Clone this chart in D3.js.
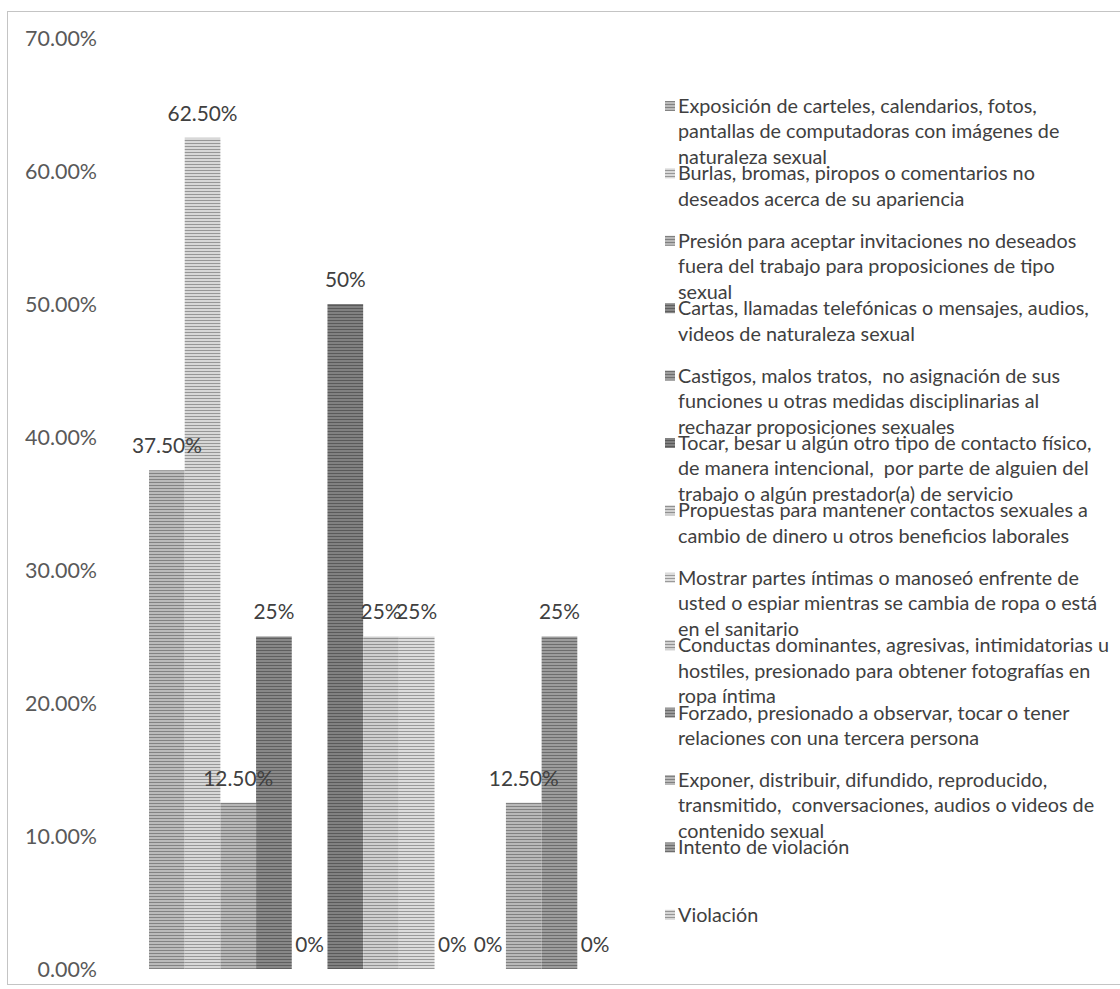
<!DOCTYPE html>
<html><head><meta charset="utf-8">
<script src="https://cdn.jsdelivr.net/npm/d3@7"></script>
<style>
body{margin:0;background:#fff}
text{white-space:pre}
</style>
</head><body>
<svg id="chart" width="1120" height="989"></svg>
<script>
// ---------- data ----------
const categories = ["Acoso sexual"];
const legendLines = [
  ["Exposición de carteles, calendarios, fotos,", "pantallas de computadoras con imágenes de", "naturaleza sexual"],
  ["Burlas, bromas, piropos o comentarios no", "deseados acerca de su apariencia"],
  ["Presión para aceptar invitaciones no deseados", "fuera del trabajo para proposiciones de tipo", "sexual"],
  ["Cartas, llamadas telefónicas o mensajes, audios,", "videos de naturaleza sexual"],
  ["Castigos, malos tratos,  no asignación de sus", "funciones u otras medidas disciplinarias al", "rechazar proposiciones sexuales"],
  ["Tocar, besar u algún otro tipo de contacto físico,", "de manera intencional,  por parte de alguien del", "trabajo o algún prestador(a) de servicio"],
  ["Propuestas para mantener contactos sexuales a", "cambio de dinero u otros beneficios laborales"],
  ["Mostrar partes íntimas o manoseó enfrente de", "usted o espiar mientras se cambia de ropa o está", "en el sanitario"],
  ["Conductas dominantes, agresivas, intimidatorias u", "hostiles, presionado para obtener fotografías en", "ropa íntima"],
  ["Forzado, presionado a observar, tocar o tener", "relaciones con una tercera persona"],
  ["Exponer, distribuir, difundido, reproducido,", "transmitido,  conversaciones, audios o videos de", "contenido sexual"],
  ["Intento de violación"],
  ["Violación"]
];
const seriesNames = legendLines.map(l => l.join(" "));
const values = [0.375, 0.625, 0.125, 0.25, 0, 0.5, 0.25, 0.25, 0, 0, 0.125, 0.25, 0];
const yTicks = [0, 0.1, 0.2, 0.3, 0.4, 0.5, 0.6, 0.7];
const seriesColors = ["#a8a8a8", "#c2c2c2", "#a4a4a4", "#7a7a7a", "#8e8e8e", "#747474", "#bababa",
                      "#c6c6c6", "#bcbcbc", "#8a8a8a", "#a6a6a6", "#8c8c8c", "#c0c0c0"];

// ---------- helpers ----------
const FONT = "Lato, 'Open Sans', sans-serif";
const cv = document.createElement("canvas").getContext("2d");
function fit(text, target) { cv.font = "100px " + FONT; return 100 * target / cv.measureText(text).width; }
const legendSize = fit("Cartas, llamadas telefónicas o mensajes, audios,", 411);
const tickSize = fit("70.00%", 72);
const labelSize = fit("12.50%", 70);

const svg = d3.select("#chart");
svg.append("rect").attr("width", 1120).attr("height", 989).attr("fill", "#fff");

// stripe patterns
const defs = svg.append("defs");
seriesColors.forEach((c, i) => {
  const p = defs.append("pattern").attr("id", "pat" + i).attr("patternUnits", "userSpaceOnUse")
    .attr("width", 4).attr("height", 3);
  p.append("rect").attr("width", 4).attr("height", 3).attr("fill", d3.color(c).brighter(0.3));
  p.append("rect").attr("y", 2).attr("width", 4).attr("height", 1).attr("fill", d3.color(c).darker(0.7));
});

// frame
svg.append("rect").attr("x", 7.5).attr("y", 11.5).attr("width", 1130).attr("height", 973)
  .attr("fill", "none").attr("stroke", "#c4c4c4").attr("stroke-width", 1);

// scales
const y = d3.scaleLinear().domain([0, 0.7]).range([969, 38]);
const x0 = d3.scaleBand().domain(categories).range([149, 613]).padding(0);
const x1 = d3.scaleBand().domain(d3.range(values.length)).range([0, x0.bandwidth()]).padding(0);

// y axis labels
const yAxis = d3.axisLeft(y).tickValues(yTicks).tickFormat(d3.format(".2%")).tickSize(0).tickPadding(0);
const gy = svg.append("g").attr("transform", "translate(97,0)").call(yAxis);
gy.select(".domain").remove();
gy.selectAll("text").attr("font-family", FONT).attr("font-size", tickSize).attr("fill", "#595959")
  .attr("dy", "0.35em");

// bars
const g = svg.append("g").attr("transform", `translate(${x0(categories[0])},0)`);
g.selectAll("rect.bar").data(values).join("rect").attr("class", "bar")
  .attr("x", (d, i) => x1(i)).attr("width", x1.bandwidth())
  .attr("y", d => y(d)).attr("height", d => y(0) - y(d))
  .attr("fill", (d, i) => `url(#pat${i})`);

// data labels
const fmtLabel = v => Number.isInteger(Math.round(v * 10000) / 100) ? d3.format(".0%")(v) : d3.format(".2%")(v);
g.selectAll("text.lbl").data(values).join("text").attr("class", "lbl")
  .attr("x", (d, i) => x1(i) + x1.bandwidth() / 2).attr("y", d => y(d) - 24.5)
  .attr("dy", "0.35em").attr("text-anchor", "middle")
  .attr("font-family", FONT).attr("font-size", labelSize).attr("fill", "#404040")
  .text(d => fmtLabel(d));

// legend
const legTop = 106, legStep = 67.4, lineStep = 25.5;
const lg = svg.append("g");
legendLines.forEach((lines, i) => {
  const cy = legTop + i * legStep;
  lg.append("rect").attr("x", 665).attr("y", cy - 5).attr("width", 10).attr("height", 10)
    .attr("fill", `url(#pat${i})`);
  const t = lg.append("text").attr("font-family", FONT).attr("font-size", legendSize).attr("fill", "#404040");
  lines.forEach((ln, j) => {
    t.append("tspan").attr("x", 678).attr("y", cy + j * lineStep).attr("dy", "0.35em").text(ln);
  });
});
</script>
</body></html>
